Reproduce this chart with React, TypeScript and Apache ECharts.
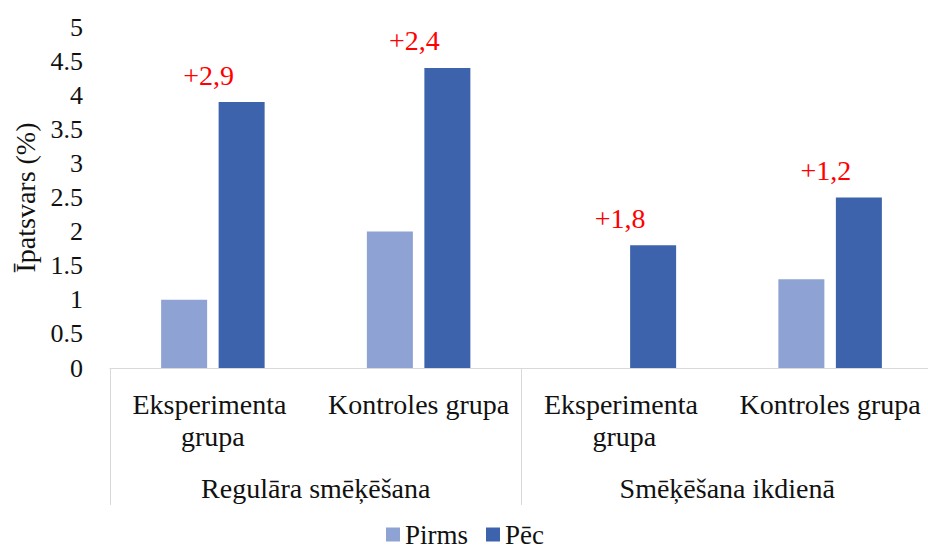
import React, { useEffect, useRef } from "react";
import * as echarts from "echarts";

const categories = ["Eksperimenta grupa", "Kontroles grupa", "Eksperimenta grupa", "Kontroles grupa"];
const groups = ["Regulāra smēķēšana", "Smēķēšana ikdienā"];
const pirms = [1.0, 2.0, 0, 1.3];
const pec = [3.9, 4.4, 1.8, 2.5];
const diffs = ["+2,9", "+2,4", "+1,8", "+1,2"];
const yTicks = { min: 0, max: 5, interval: 0.5 };

const FONT = "Liberation Serif, Times New Roman, serif";
const FONT_ALT = "Times New Roman, Liberation Serif, serif";
const TEXT = "#111111";

export default function App() {
  const ref = useRef<HTMLDivElement>(null);
  useEffect(() => {
    if (!ref.current) return;
    const chart = echarts.init(ref.current, undefined, { renderer: "svg" });
    chart.setOption({
      animation: false,
      textStyle: { fontFamily: FONT },
      grid: { left: 110, top: 27, width: 823, height: 341, containLabel: false, outerBoundsMode: "none" },
      legend: {
        top: 521,
        left: 386,
        padding: 0,
        itemWidth: 14,
        itemHeight: 14,
        itemGap: 18,
        icon: "rect",
        textStyle: { fontFamily: FONT_ALT, fontSize: 27, lineHeight: 24, color: TEXT },
        data: ["Pirms", "Pēc"],
      },
      xAxis: [
        {
          type: "category",
          data: categories,
          axisLine: { show: true, lineStyle: { color: "#d9d9d9", width: 1 } },
          axisTick: {
            show: true,
            length: 137,
            lineStyle: { color: "#d9d9d9", width: 1 },
            interval: (index: number) => index === 0 || index === 2,
          },
          axisLabel: {
            interval: 0,
            fontFamily: FONT,
            fontSize: 28,
            color: TEXT,
            lineHeight: 32,
            width: 200,
            overflow: "break",
            margin: 20,
          },
        },
        {
          type: "category",
          position: "bottom",
          data: groups,
          axisLine: { show: false },
          axisTick: { show: false },
          axisLabel: {
            interval: 0,
            fontFamily: FONT,
            fontSize: 28,
            color: TEXT,
            margin: 106,
          },
        },
      ],
      yAxis: {
        type: "value",
        min: yTicks.min,
        max: yTicks.max,
        interval: yTicks.interval,
        name: "Īpatsvars (%)",
        nameLocation: "middle",
        nameRotate: 90,
        nameGap: 70,
        nameTextStyle: { fontFamily: FONT_ALT, fontSize: 28, color: TEXT },
        axisLine: { show: false },
        axisTick: { show: false },
        splitLine: { show: false },
        axisLabel: { fontFamily: FONT_ALT, fontSize: 26, color: TEXT, margin: 27 },
      },
      series: [
        {
          name: "Pirms",
          type: "bar",
          xAxisIndex: 0,
          data: pirms,
          barWidth: 46,
          barGap: "25%",
          itemStyle: { color: "#8FA2D4" },
        },
        {
          name: "Pēc",
          type: "bar",
          xAxisIndex: 0,
          data: pec,
          barWidth: 46,
          barGap: "25%",
          itemStyle: { color: "#3D63AD" },
          label: {
            show: true,
            position: "top",
            offset: [-33, -8],
            fontFamily: FONT,
            fontSize: 28,
            color: "#FF0000",
            formatter: (p: any) => diffs[p.dataIndex],
          },
        },
      ],
    });
    return () => chart.dispose();
  }, []);
  return (
    <div
      ref={ref}
      style={{ width: 928, height: 550, position: "absolute", left: 0, top: 0, fontFamily: "Liberation Serif, serif" }}
    />
  );
}
